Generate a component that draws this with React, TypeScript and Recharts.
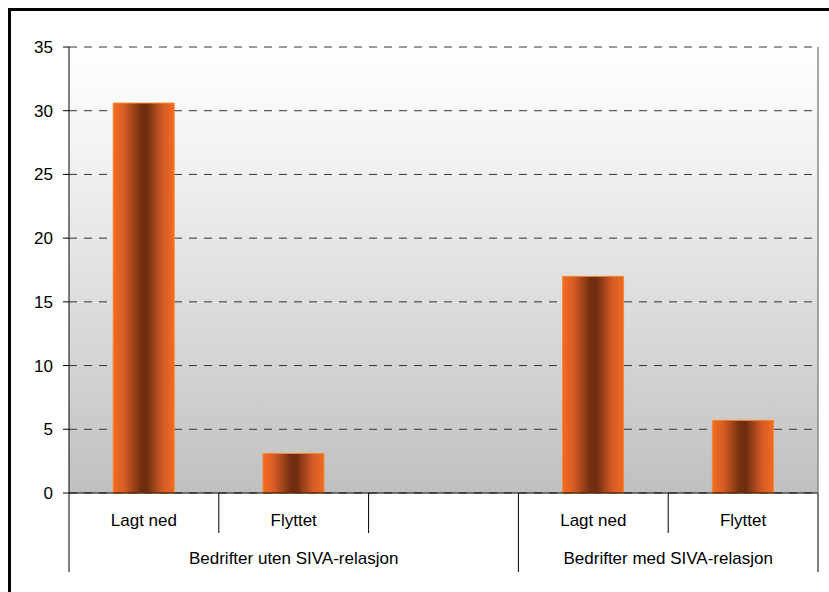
import React from "react";
import {
  BarChart,
  Bar,
  XAxis,
  YAxis,
  CartesianGrid,
} from "recharts";

// categories along the x axis; the empty one is the spacer slot in group 1
const categories = ["Lagt ned", "Flyttet", "", "Lagt ned", "Flyttet"];
const values = [30.6, 3.1, 0, 17.0, 5.7];
// which group each category belongs to
const groupOf = [0, 0, 0, 1, 1];
const groupLabels = ["Bedrifter uten SIVA-relasjon", "Bedrifter med SIVA-relasjon"];
const yTicks = [0, 5, 10, 15, 20, 25, 30, 35];

const data = categories.map((c, i) => ({
  name: c,
  value: values[i],
  group: groupOf[i],
}));

const FONT = "Arial, 'Liberation Sans', sans-serif";

const CategoryTick = (props: any) => {
  const { x, y, payload, index, width, visibleTicksCount } = props;
  const half =
    payload && typeof payload.offset === "number" && payload.offset > 0
      ? payload.offset
      : width / visibleTicksCount / 2;
  const g = groupOf[index];
  const isLastInGroup = index === groupOf.length - 1 || groupOf[index + 1] !== g;
  const isFirstInGroup = index === 0 || groupOf[index - 1] !== g;

  let groupLabel = null;
  if (isFirstInGroup) {
    let last = index;
    while (last + 1 < groupOf.length && groupOf[last + 1] === g) last++;
    const cx = x + (last - index) * half;
    groupLabel = (
      <text
        x={cx}
        y={y + 71}
        textAnchor="middle"
        fontSize={17}
        fontFamily={FONT}
        fill="#000"
      >
        {groupLabels[g]}
      </text>
    );
  }

  return (
    <g>
      {index === 0 && (
        <line x1={x - half} x2={x - half} y1={y} y2={y + 79} stroke="#000" strokeWidth={1} />
      )}
      <line
        x1={x + half}
        x2={x + half}
        y1={y}
        y2={y + (isLastInGroup ? 79 : 40)}
        stroke="#000"
        strokeWidth={1}
      />
      <text
        x={x}
        y={y + 33}
        textAnchor="middle"
        fontSize={17}
        fontFamily={FONT}
        fill="#000"
      >
        {payload.value}
      </text>
      {groupLabel}
    </g>
  );
};

export default function App() {
  return (
    <div
      style={{
        position: "fixed",
        top: 8,
        left: 8,
        width: 830,
        height: 600,
        boxSizing: "border-box",
        borderLeft: "3px solid #000",
        borderTop: "3px solid #000",
        background: "#fff",
      }}
    >
      <BarChart
        width={818}
        height={573}
        data={data}
        margin={{ top: 36, right: 10, bottom: 11, left: 0 }}
        barCategoryGap="29.5%"
      >
        <defs>
          <linearGradient id="plotBg" x1="0" y1="0" x2="0" y2="1">
            <stop offset="0%" stopColor="#ffffff" />
            <stop offset="35%" stopColor="#ececec" />
            <stop offset="100%" stopColor="#c0c0c0" />
          </linearGradient>
          <linearGradient id="barFill" x1="0" y1="0" x2="1" y2="0">
            <stop offset="0%" stopColor="#f36c21" />
            <stop offset="18%" stopColor="#d75c25" />
            <stop offset="45%" stopColor="#742f10" />
            <stop offset="55%" stopColor="#6f2d10" />
            <stop offset="82%" stopColor="#d55c26" />
            <stop offset="100%" stopColor="#f06b23" />
          </linearGradient>
        </defs>
        <CartesianGrid
          vertical={false}
          stroke="#333"
          strokeDasharray="8 7"
          fill="url(#plotBg)"
          fillOpacity={1}
        />
        <XAxis
          xAxisId="top"
          orientation="top"
          dataKey="name"
          height={0}
          tick={false}
          tickLine={false}
          axisLine={{ stroke: "#9a9a9a", strokeWidth: 1 }}
        />
        <XAxis
          dataKey="name"
          height={80}
          axisLine={{ stroke: "#000", strokeWidth: 1 }}
          tickLine={false}
          tickSize={0}
          tickMargin={0}
          interval={0}
          tick={<CategoryTick />}
        />
        <YAxis
          domain={[0, 35]}
          ticks={yTicks}
          width={58}
          tickSize={6}
          tickMargin={10}
          axisLine={{ stroke: "#000" }}
          tickLine={{ stroke: "#000" }}
          tick={{ fontSize: 17, fill: "#000", fontFamily: FONT }}
        />
        <YAxis
          yAxisId="right"
          orientation="right"
          width={1}
          domain={[0, 35]}
          tick={false}
          tickLine={false}
          axisLine={{ stroke: "#8a8a8a", strokeWidth: 1.5 }}
        />
        <Bar
          dataKey="value"
          fill="url(#barFill)"
          stroke="#f5892a"
          strokeWidth={1}
          isAnimationActive={false}
        />
      </BarChart>
    </div>
  );
}
